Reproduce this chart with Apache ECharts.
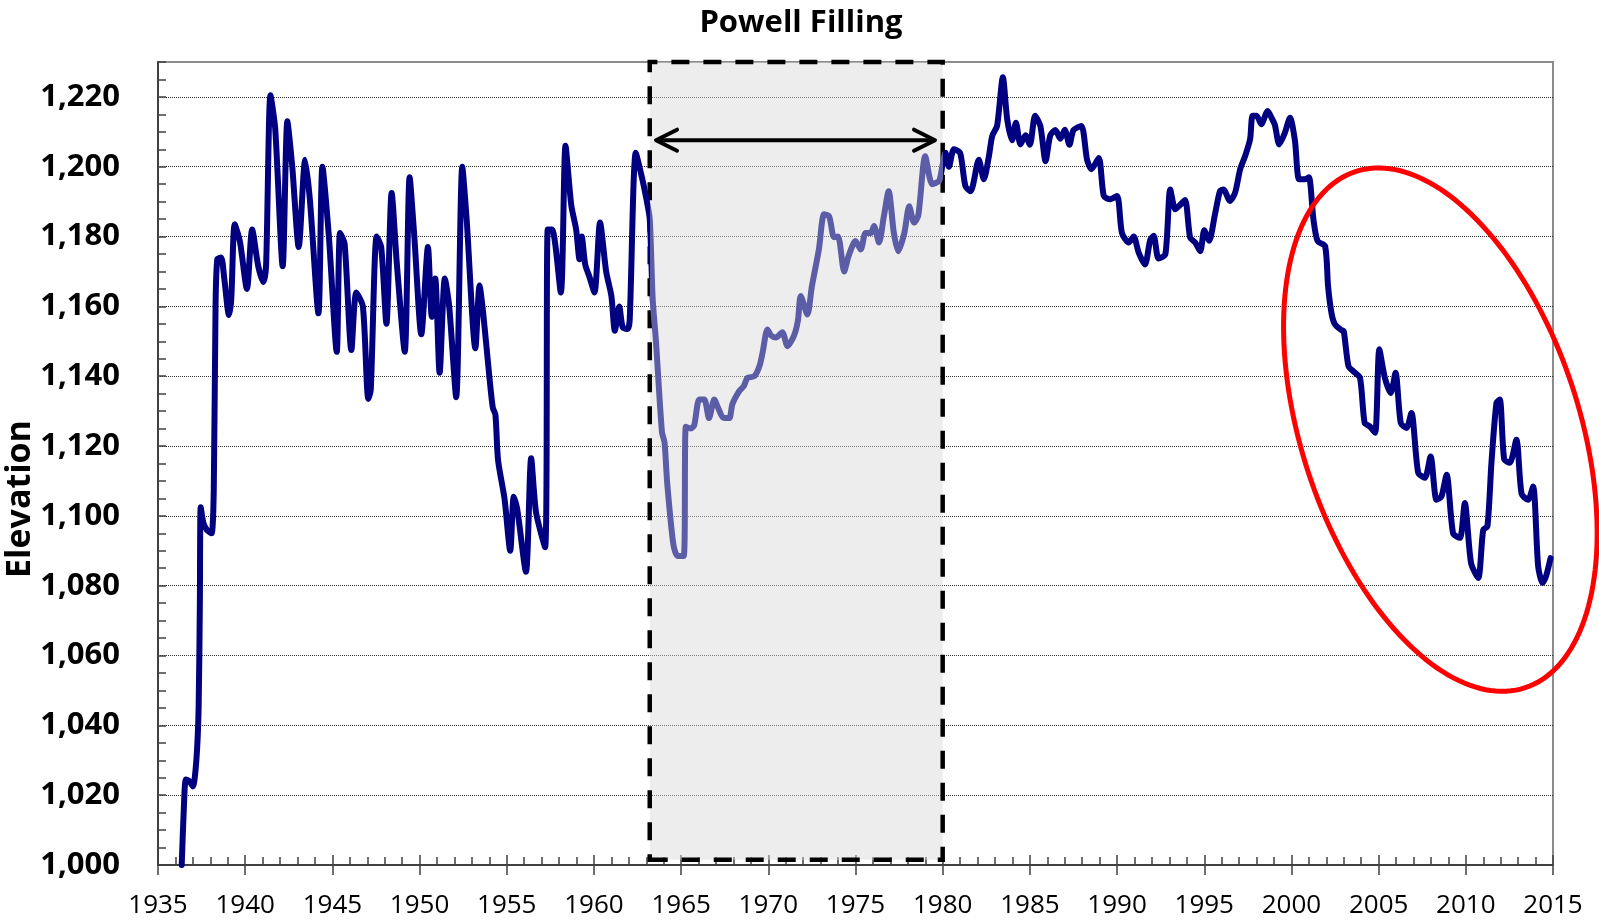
<!DOCTYPE html>
<html>
<head>
<meta charset="utf-8">
<title>Lake Mead Elevation</title>
<script src="https://cdn.jsdelivr.net/npm/echarts@6.0.0/dist/echarts.min.js"></script>
<style>
  html, body { margin: 0; padding: 0; background: #fff; }
  #chart { width: 1599px; height: 921px; }
</style>
</head>
<body>
<div id="chart"></div>
<script>
// Reservoir elevation
const years = [
  1936.36, 1936.48, 1936.6, 1936.8, 1937.0, 1937.2, 1937.33, 1937.4, 1937.45, 1937.6,
  1937.8, 1938.07, 1938.2, 1938.3, 1938.4, 1938.62, 1938.8, 1939.07, 1939.2, 1939.4,
  1939.7, 1940.1, 1940.4, 1940.75, 1941.05, 1941.2, 1941.45, 1941.72, 1942.15, 1942.42,
  1942.7, 1943.07, 1943.44, 1943.72, 1944.2, 1944.43, 1944.8, 1945.25, 1945.44, 1945.7,
  1946.09, 1946.37, 1946.75, 1947.06, 1947.2, 1947.54, 1947.8, 1948.1, 1948.4, 1948.7,
  1949.15, 1949.43, 1949.7, 1950.1, 1950.48, 1950.7, 1950.9, 1951.15, 1951.45, 1951.7,
  1952.1, 1952.45, 1952.7, 1953.2, 1953.44, 1953.65, 1954.0, 1954.2, 1954.35, 1954.5,
  1954.87, 1955.2, 1955.4, 1955.6, 1956.1, 1956.4, 1956.68, 1957.2, 1957.35, 1957.6,
  1958.1, 1958.37, 1958.7, 1958.98, 1959.17, 1959.3, 1959.5, 1959.74, 1960.03, 1960.35,
  1960.7, 1961.0, 1961.2, 1961.45, 1961.65, 1961.93, 1962.05, 1962.4, 1962.75, 1963.0,
  1963.2, 1963.37, 1963.55, 1963.9, 1964.05, 1964.2, 1964.55, 1964.8, 1965.15, 1965.27,
  1965.55, 1965.75, 1966.04, 1966.33, 1966.6, 1966.9, 1967.15, 1967.4, 1967.76, 1967.94,
  1968.33, 1968.6, 1968.8, 1969.2, 1969.5, 1969.67, 1969.95, 1970.15, 1970.44, 1970.8,
  1971.1, 1971.48, 1971.7, 1971.86, 1972.24, 1972.5, 1972.9, 1973.2, 1973.49, 1973.77,
  1974.0, 1974.35, 1974.6, 1975.0, 1975.3, 1975.58, 1975.87, 1976.06, 1976.35, 1976.63,
  1976.9, 1977.2, 1977.45, 1977.8, 1978.08, 1978.36, 1978.6, 1979.0, 1979.4, 1979.8,
  1979.98, 1980.16, 1980.36, 1980.64, 1981.0, 1981.3, 1981.6, 1982.07, 1982.36, 1982.65,
  1982.84, 1983.12, 1983.45, 1983.7, 1983.98, 1984.2, 1984.46, 1984.75, 1985.0, 1985.3,
  1985.6, 1985.9, 1986.17, 1986.46, 1986.75, 1987.0, 1987.27, 1987.5, 1987.95, 1988.28,
  1988.53, 1988.95, 1989.24, 1989.6, 1990.0, 1990.28, 1990.67, 1990.95, 1991.24, 1991.6,
  1991.9, 1992.1, 1992.38, 1992.77, 1993.05, 1993.34, 1993.6, 1993.9, 1994.19, 1994.48,
  1994.77, 1995.0, 1995.28, 1995.6, 1995.9, 1996.1, 1996.47, 1996.77, 1997.06, 1997.34,
  1997.63, 1997.77, 1998.0, 1998.27, 1998.64, 1998.87, 1999.05, 1999.3, 1999.6, 1999.92,
  2000.2, 2000.44, 2000.78, 2001.0, 2001.26, 2001.5, 2001.93, 2002.1, 2002.3, 2002.5,
  2002.87, 2003.0, 2003.27, 2003.55, 2003.93, 2004.2, 2004.5, 2004.8, 2005.04, 2005.36,
  2005.7, 2005.97, 2006.27, 2006.6, 2006.88, 2007.27, 2007.65, 2007.98, 2008.32, 2008.6,
  2008.9, 2009.27, 2009.66, 2009.94, 2010.3, 2010.71, 2011.0, 2011.24, 2011.47, 2011.76,
  2011.95, 2012.2, 2012.52, 2012.9, 2013.2, 2013.57, 2013.86, 2014.15, 2014.4, 2014.6,
  2014.86
];
const elevation = [
  1000, 1016, 1024.5, 1024, 1022.5, 1030, 1045, 1075, 1102.5, 1098,
  1096, 1095, 1108, 1160, 1173.5, 1174, 1168, 1157.5, 1162, 1183.5,
  1178.5, 1165, 1182, 1171.5, 1167, 1172, 1220.5, 1211, 1171.5, 1213,
  1200, 1177, 1202, 1190, 1158, 1200, 1180, 1147, 1181, 1178,
  1147.5, 1164, 1160, 1133.5, 1136, 1180, 1177, 1155, 1192.5, 1172,
  1147, 1197, 1180, 1152, 1177, 1157, 1168, 1141, 1168, 1160,
  1134, 1200, 1185, 1148, 1166, 1158, 1140, 1131, 1129, 1116,
  1105, 1090, 1105.5, 1102, 1084, 1116.5, 1101, 1091, 1182, 1182,
  1164, 1206, 1189, 1182, 1173.5, 1180, 1172, 1168.5, 1164, 1184,
  1170, 1163, 1153, 1160, 1154, 1153.5, 1156, 1204, 1197, 1191,
  1185, 1162, 1150.5, 1124, 1121, 1109.5, 1092, 1088.5, 1088.5, 1125.5,
  1125, 1126, 1133.3, 1133.3, 1128, 1133.3, 1130.6, 1128.2, 1128, 1132,
  1135.7, 1137.2, 1139.5, 1140, 1143, 1146.7, 1153.4, 1151.7, 1151.1, 1152.6,
  1148.6, 1151.7, 1156, 1163, 1157.7, 1165.8, 1176.3, 1186.4, 1185.8, 1179.8,
  1180, 1170, 1174.4, 1178.7, 1176.3, 1181, 1181, 1183, 1178.3, 1185.9,
  1193, 1181, 1175.8, 1181, 1188.7, 1184, 1186, 1203, 1195, 1196,
  1200.2, 1204, 1200, 1205, 1204, 1194.5, 1193, 1202, 1196.4, 1203,
  1208.8, 1211.7, 1225.6, 1213.6, 1207.6, 1212.6, 1206.4, 1209, 1206.3, 1214.6,
  1211.7, 1201.6, 1209, 1210.5, 1208, 1210.6, 1206.3, 1210.5, 1211.7, 1202,
  1199.3, 1202.5, 1191.6, 1190.7, 1191.6, 1181, 1178.3, 1180, 1175.4, 1172,
  1179, 1180.2, 1173.7, 1174.9, 1193.5, 1187.8, 1189, 1190.5, 1179.7, 1178.3,
  1175.8, 1181.8, 1178.8, 1186, 1193, 1193.5, 1190.2, 1192.6, 1199.3, 1203,
  1207.9, 1214.6, 1214.6, 1212.2, 1216, 1213.9, 1212, 1206.4, 1209.4, 1214,
  1207.5, 1196.4, 1196.4, 1197, 1185, 1178.7, 1177.3, 1165.8, 1158, 1154.8,
  1153.2, 1152.9, 1142.9, 1141.4, 1139.5, 1126.6, 1125.6, 1123.8, 1147.7, 1139.5,
  1135.2, 1141, 1126.6, 1125.2, 1129.5, 1112.3, 1110.9, 1117, 1104.6, 1105.5,
  1111.8, 1095, 1093.7, 1103.7, 1086.5, 1082.2, 1096, 1097, 1115.2, 1132.4,
  1133.3, 1116.2, 1115.2, 1121.8, 1106.3, 1104.6, 1108.4, 1085.5, 1080.8, 1082.7,
  1087.9
];

// Powell filling period (shaded box) and annotations
const fillingStart = 1963.2;
const fillingEnd = 1980;
const arrowFrom = 1963.56;
const arrowTo = 1979.56;
const arrowLevel = 1207.6;
const ellipseCenter = [2008.54, 1124.7];
const ellipseAxes = [15.58, 7.96];   // semi-axes, in years of x-axis length
const ellipseTilt = 71.8;            // degrees, clockwise on screen

const NAVY = '#000080';
const LIGHT = '#5b5ea6';
const FONT = '"Open Sans", "Noto Sans", sans-serif';

const lineData = years.map((y, i) => [y, elevation[i]]);

const chart = echarts.init(document.getElementById('chart'));

function renderNotes(params, api) {
  const a = api.coord([arrowFrom, arrowLevel]);
  const b = api.coord([arrowTo, arrowLevel]);
  const headW = 21, headH = 10.5;
  const arrowStyle = { stroke: '#000', lineWidth: 4, fill: 'none', lineCap: 'round', lineJoin: 'round' };

  const c = api.coord(ellipseCenter);
  const pxYear = api.size([1, 0])[0];
  const ra = ellipseAxes[0] * pxYear;
  const rb = ellipseAxes[1] * pxYear;
  const th = ellipseTilt * Math.PI / 180;
  const pts = [];
  for (let k = 0; k < 180; k++) {
    const t = k / 180 * Math.PI * 2;
    const ex = ra * Math.cos(t), ey = rb * Math.sin(t);
    pts.push([c[0] + ex * Math.cos(th) - ey * Math.sin(th),
              c[1] + ex * Math.sin(th) + ey * Math.cos(th)]);
  }

  return {
    type: 'group',
    children: [
      { type: 'line', shape: { x1: a[0] + 2, y1: a[1], x2: b[0] - 2, y2: b[1] }, style: arrowStyle },
      { type: 'polyline', shape: { points: [[a[0] + headW, a[1] - headH], [a[0], a[1]], [a[0] + headW, a[1] + headH]] }, style: arrowStyle },
      { type: 'polyline', shape: { points: [[b[0] - headW, b[1] - headH], [b[0], b[1]], [b[0] - headW, b[1] + headH]] }, style: arrowStyle },
      { type: 'polygon', shape: { points: pts }, style: { stroke: '#ff0000', lineWidth: 5, fill: 'none' } }
    ]
  };
}

const axisColor = '#404040';

chart.setOption({
  animation: false,
  backgroundColor: '#fff',
  title: {
    text: 'Powell Filling',
    left: 796,
    top: 3,
    textAlign: 'center',
    textStyle: { fontFamily: FONT, fontWeight: 'bold', fontSize: 31, color: '#000' }
  },
  grid: {
    left: 158, right: 46, top: 62, bottom: 56,
    show: true, borderColor: '#8c8c8c', borderWidth: 2, backgroundColor: '#fff'
  },
  visualMap: {
    show: false,
    type: 'piecewise',
    seriesIndex: 0,
    dimension: 0,
    pieces: [{ gte: fillingStart, lte: fillingEnd, color: LIGHT }],
    outOfRange: { color: NAVY }
  },
  xAxis: [
    {
      type: 'value', min: 1935, max: 2015, interval: 5, position: 'bottom',
      axisLine: { lineStyle: { color: axisColor, width: 2 } },
      axisTick: { length: 10, lineStyle: { color: axisColor, width: 1.5 } },
      axisLabel: { fontFamily: FONT, fontSize: 26, color: '#000', margin: 28, formatter: v => String(v) },
      splitLine: { show: false }
    },
    {
      type: 'value', min: 1935, max: 2015, interval: 1, position: 'bottom',
      axisLine: { show: false },
      axisTick: { inside: true, length: 8, lineStyle: { color: axisColor, width: 1.5 } },
      axisLabel: { show: false },
      splitLine: { show: false }
    },
    {
      type: 'value', min: 1935, max: 2015, interval: 5, position: 'bottom',
      axisLine: { show: false },
      axisTick: { inside: true, length: 10, lineStyle: { color: axisColor, width: 1.5 } },
      axisLabel: { show: false },
      splitLine: { show: false }
    }
  ],
  yAxis: [
    {
      type: 'value', min: 1000, max: 1230, interval: 20, position: 'left',
      axisLine: { show: true, lineStyle: { color: axisColor, width: 2 } },
      axisTick: { inside: true, length: 8, lineStyle: { color: axisColor, width: 1.5 } },
      axisLabel: {
        fontFamily: FONT, fontSize: 31, fontWeight: 'bold', color: '#000', margin: 38,
        showMaxLabel: false,
        formatter: v => v.toLocaleString('en-US')
      },
      splitLine: {
        show: true, showMaxLine: false, showMinLine: false,
        lineStyle: { color: '#333', width: 1, type: [1, 1] }
      }
    },
    {
      type: 'value', min: 1000, max: 1230, interval: 5, position: 'left',
      axisLine: { show: false },
      axisTick: { inside: true, length: 8, lineStyle: { color: axisColor, width: 1.5 } },
      axisLabel: { show: false },
      splitLine: { show: false }
    }
  ],
  graphic: [
    {
      type: 'text', x: 20, y: 499, rotation: Math.PI / 2,
      style: {
        text: 'Elevation', font: 'bold 34px ' + FONT, fill: '#000',
        align: 'center', verticalAlign: 'middle',
        textAlign: 'center', textVerticalAlign: 'middle'
      }
    }
  ],
  series: [
    {
      type: 'line',
      xAxisIndex: 0, yAxisIndex: 0,
      data: lineData,
      showSymbol: false,
      smooth: 0.25,
      lineStyle: { width: 6, cap: 'round', join: 'round' },
      markArea: {
        silent: true,
        itemStyle: {
          color: 'rgba(215,215,215,0.45)',
          borderColor: '#000', borderWidth: 4.5, borderType: [18, 14]
        },
        data: [[{ coord: [fillingStart, 1001.5] }, { coord: [fillingEnd, 1230] }]]
      }
    },
    {
      type: 'custom',
      xAxisIndex: 0, yAxisIndex: 0,
      silent: true,
      clip: false,
      z: 5,
      data: [[arrowFrom, arrowLevel]],
      renderItem: renderNotes
    }
  ]
});
</script>
</body>
</html>
